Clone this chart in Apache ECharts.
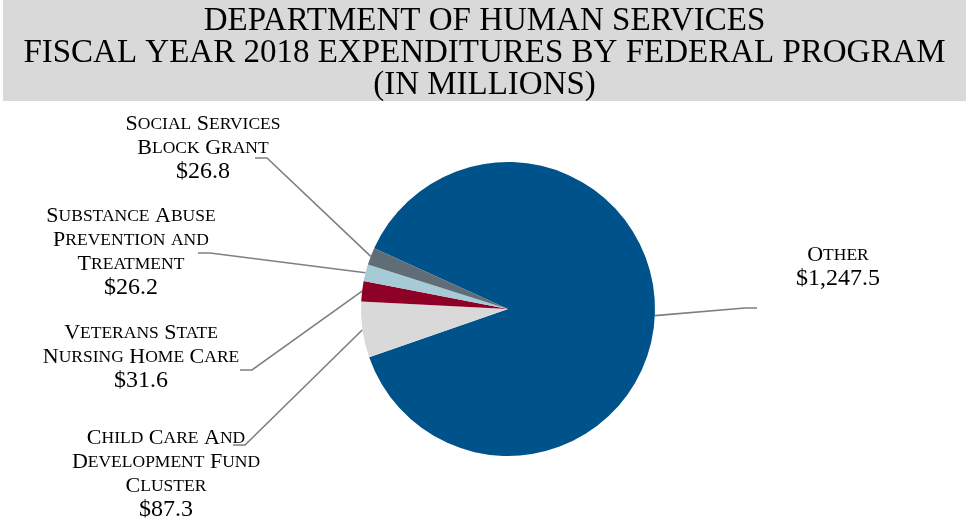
<!DOCTYPE html>
<html>
<head>
<meta charset="utf-8">
<script src="https://cdn.jsdelivr.net/npm/echarts@6/dist/echarts.min.js"></script>
<style>
  html, body { margin: 0; padding: 0; background: #ffffff; }
  #chart { width: 969px; height: 527px; }
</style>
</head>
<body>
<div id="chart"></div>
<script>
// Fiscal year 2018 federal program expenditures, in millions of dollars
const titleLines = [
  'DEPARTMENT OF HUMAN SERVICES',
  'FISCAL YEAR 2018 EXPENDITURES BY FEDERAL PROGRAM',
  '(IN MILLIONS)'
];
const programs = [
  'Other',
  'Child Care And\nDevelopment Fund\nCluster',
  'Veterans State\nNursing Home Care',
  'Substance Abuse\nPrevention and\nTreatment',
  'Social Services\nBlock Grant'
];
const expenditures = [1247.5, 87.3, 31.6, 26.2, 26.8];
const sliceColors = ['#00538a', '#d9d9d9', '#8f0027', '#a6cbd6', '#5f6d76'];

// Where each label block sits and where its leader line finishes
const labelSpots = [
  { x: 838, y: 267, elbow: [745, 308], end: [757, 308] },
  { x: 166, y: 474, elbow: [245, 445], end: [233, 445] },
  { x: 141, y: 357, elbow: [252, 370], end: [240, 370] },
  { x: 131, y: 252, elbow: [210, 253], end: [198, 253] },
  { x: 203, y: 148, elbow: [267, 158], end: [255, 158] }
];

const serif = '"Liberation Serif", "DejaVu Serif", serif';

// Render a name in small caps: capitals full size, lower-case letters as smaller capitals
function smallCaps(text) {
  return text.split('\n').map(function (line) {
    let out = '', buf = '', cls = null;
    for (const ch of line) {
      const c = (ch >= 'a' && ch <= 'z') ? 's' : 'c';
      if (cls !== null && c !== cls) { out += '{' + cls + '|' + buf + '}'; buf = ''; }
      cls = c;
      buf += ch.toUpperCase();
    }
    if (buf) out += '{' + cls + '|' + buf + '}';
    return out;
  }).join('\n');
}

function money(v) {
  const parts = v.toFixed(1).split('.');
  parts[0] = parts[0].replace(/\B(?=(\d{3})+(?!\d))/g, ',');
  return '$' + parts.join('.');
}

const chart = echarts.init(document.getElementById('chart'), null, { renderer: 'canvas' });

chart.setOption({
  backgroundColor: '#ffffff',
  animation: false,
  graphic: [{
    type: 'rect',
    z: 0,
    shape: { x: 3, y: 0, width: 963, height: 101 },
    style: { fill: '#d9d9d9' }
  }],
  title: {
    text: titleLines.join('\n'),
    left: 'center',
    top: 5,
    padding: 0,
    z: 10,
    textStyle: {
      fontFamily: serif,
      fontSize: 33,
      fontWeight: 'normal',
      color: '#000000',
      lineHeight: 32
    }
  },
  series: [{
    type: 'pie',
    center: [508, 309],
    radius: 147,
    startAngle: 155.6,
    clockwise: true,
    avoidLabelOverlap: false,
    data: programs.map(function (name, i) {
      return { name: name, value: expenditures[i], itemStyle: { color: sliceColors[i] } };
    }),
    itemStyle: { borderWidth: 0 },
    emphasis: { disabled: true },
    label: {
      show: true,
      position: 'outside',
      color: '#000000',
      fontFamily: serif,
      formatter: function (p) {
        return smallCaps(p.name) + '\n{v|' + money(p.value) + '}';
      },
      rich: {
        c: { fontFamily: serif, fontSize: 22, lineHeight: 24, color: '#000000' },
        s: { fontFamily: serif, fontSize: 17.5, lineHeight: 24, color: '#000000' },
        v: { fontFamily: serif, fontSize: 24, lineHeight: 24, color: '#000000' }
      }
    },
    labelLine: {
      show: true,
      length: 20,
      length2: 10,
      lineStyle: { color: '#7f7f7f', width: 1.6 }
    },
    labelLayout: function (params) {
      const s = labelSpots[params.dataIndex];
      const out = { x: s.x, y: s.y, align: 'center', verticalAlign: 'middle' };
      if (params.labelLinePoints && params.labelLinePoints[0]) {
        out.labelLinePoints = [params.labelLinePoints[0].slice(), s.elbow, s.end];
      }
      return out;
    }
  }]
});
</script>
</body>
</html>
